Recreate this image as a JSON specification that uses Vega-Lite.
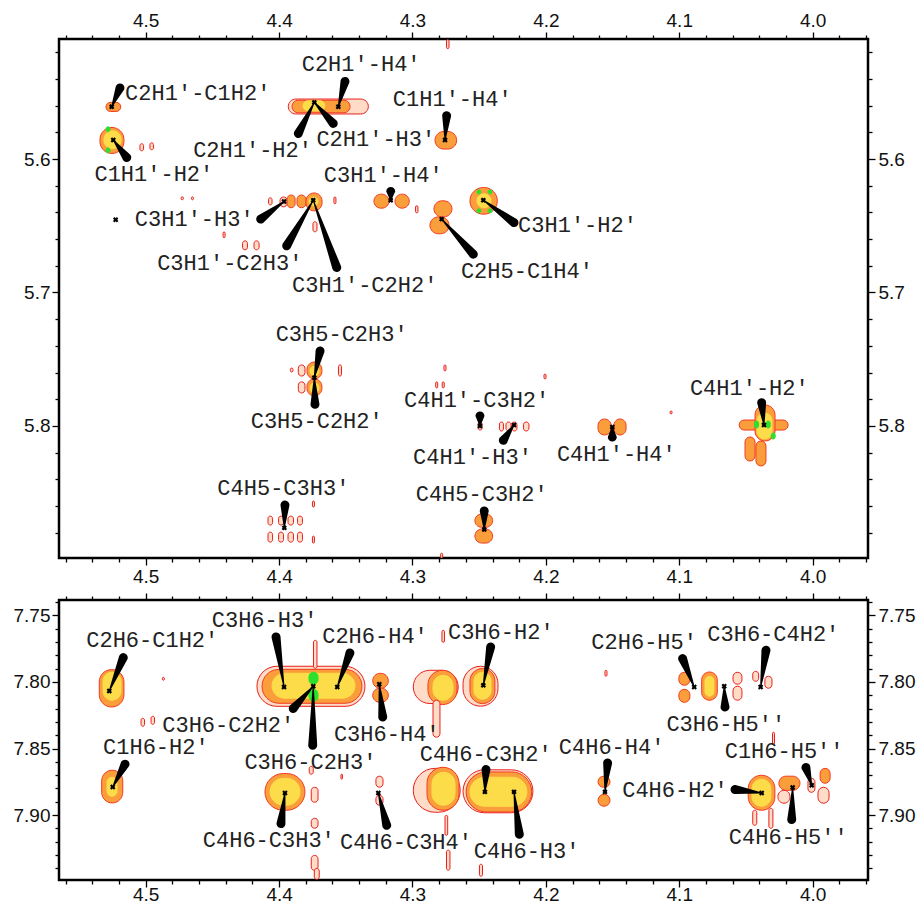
{
  "$schema": "https://vega.github.io/schema/vega-lite/v6.json",
  "background": "white",
  "padding": {"left": 11, "top": 9, "right": 5, "bottom": 0},
  "spacing": 42,
  "bounds": "flush",
  "config": {
    "view": {"stroke": "black", "strokeWidth": 2.5},
    "axis": {"grid": false, "domain": false, "tickColor": "black", "tickWidth": 1.3, "labelFont": "Liberation Sans", "labelFontSize": 19, "labelColor": "#111", "labelOverlap": false, "labelBound": false, "labelFlush": false, "labelPadding": 2}
  },
  "datasets": {
    "contours_top": [
      {"x":4.5298,"x2":4.5187,"y":5.5575,"y2":5.5643,"level":2},
      {"x":4.5343,"x2":4.5163,"y":5.5763,"y2":5.5958,"level":2},
      {"x":4.5313,"x2":4.5185,"y":5.5788,"y2":5.5923,"level":3},
      {"x":4.5297,"x2":4.5268,"y":5.5758,"y2":5.5795,"level":4},
      {"x":4.5297,"x2":4.5268,"y":5.5916,"y2":5.5953,"level":4},
      {"x":4.5043,"x2":4.5016,"y":5.5885,"y2":5.5938,"level":1},
      {"x":4.4968,"x2":4.4942,"y":5.5878,"y2":5.593,"level":1},
      {"x":4.3931,"x2":4.3331,"y":5.555,"y2":5.5662,"level":1},
      {"x":4.3903,"x2":4.3468,"y":5.5559,"y2":5.5653,"level":2},
      {"x":4.3821,"x2":4.3656,"y":5.5563,"y2":5.5638,"level":3},
      {"x":4.2831,"x2":4.2669,"y":5.5793,"y2":5.5925,"level":2},
      {"x":4.3289,"x2":4.3177,"y":5.6263,"y2":5.6368,"level":2},
      {"x":4.3131,"x2":4.3024,"y":5.6263,"y2":5.6368,"level":2},
      {"x":4.4079,"x2":4.4053,"y":5.629,"y2":5.6343,"level":1},
      {"x":4.3993,"x2":4.394,"y":5.6284,"y2":5.6358,"level":1},
      {"x":4.394,"x2":4.388,"y":5.6269,"y2":5.6365,"level":2},
      {"x":4.3866,"x2":4.3798,"y":5.6269,"y2":5.6365,"level":2},
      {"x":4.3798,"x2":4.3678,"y":5.6254,"y2":5.6388,"level":2},
      {"x":4.3776,"x2":4.3708,"y":5.6284,"y2":5.635,"level":3},
      {"x":4.3746,"x2":4.3716,"y":5.647,"y2":5.6545,"level":1},
      {"x":4.3589,"x2":4.3574,"y":5.6284,"y2":5.6335,"level":1},
      {"x":4.4274,"x2":4.4237,"y":5.6613,"y2":5.668,"level":1},
      {"x":4.4188,"x2":4.415,"y":5.6613,"y2":5.668,"level":1},
      {"x":4.442,"x2":4.4405,"y":5.6546,"y2":5.659,"level":1},
      {"x":4.4735,"x2":4.4717,"y":5.6283,"y2":5.6305,"level":1},
      {"x":4.4657,"x2":4.4642,"y":5.6283,"y2":5.6305,"level":1},
      {"x":4.2977,"x2":4.2959,"y":5.635,"y2":5.6403,"level":1},
      {"x":4.2745,"x2":4.2726,"y":5.5105,"y2":5.5172,"level":1},
      {"x":4.2839,"x2":4.2704,"y":5.6313,"y2":5.6433,"level":2},
      {"x":4.2869,"x2":4.2726,"y":5.6433,"y2":5.656,"level":2},
      {"x":4.2569,"x2":4.2364,"y":5.6213,"y2":5.6413,"level":2},
      {"x":4.2517,"x2":4.2411,"y":5.626,"y2":5.6365,"level":3},
      {"x":4.2517,"x2":4.2487,"y":5.6231,"y2":5.6261,"level":4},
      {"x":4.2433,"x2":4.2404,"y":5.6231,"y2":5.6261,"level":4},
      {"x":4.2517,"x2":4.2487,"y":5.6373,"y2":5.6403,"level":4},
      {"x":4.2433,"x2":4.2404,"y":5.6373,"y2":5.6403,"level":4},
      {"x":4.3856,"x2":4.3806,"y":5.7543,"y2":5.7626,"level":1},
      {"x":4.3791,"x2":4.3679,"y":5.7521,"y2":5.7648,"level":2},
      {"x":4.3768,"x2":4.3701,"y":5.7551,"y2":5.7626,"level":3},
      {"x":4.3856,"x2":4.3806,"y":5.767,"y2":5.7753,"level":1},
      {"x":4.3791,"x2":4.3679,"y":5.7648,"y2":5.7775,"level":2},
      {"x":4.3768,"x2":4.3701,"y":5.7678,"y2":5.7753,"level":3},
      {"x":4.3915,"x2":4.3896,"y":5.7566,"y2":5.7596,"level":1},
      {"x":4.3555,"x2":4.3532,"y":5.7543,"y2":5.7626,"level":1},
      {"x":4.4083,"x2":4.4049,"y":5.8676,"y2":5.8743,"level":1},
      {"x":4.4004,"x2":4.3967,"y":5.8676,"y2":5.8743,"level":1},
      {"x":4.3933,"x2":4.3892,"y":5.8676,"y2":5.8743,"level":1},
      {"x":4.3862,"x2":4.3825,"y":5.8676,"y2":5.8743,"level":1},
      {"x":4.4083,"x2":4.4049,"y":5.8796,"y2":5.8871,"level":1},
      {"x":4.4004,"x2":4.3967,"y":5.8796,"y2":5.8871,"level":1},
      {"x":4.3933,"x2":4.3892,"y":5.8796,"y2":5.8871,"level":1},
      {"x":4.3862,"x2":4.3825,"y":5.8796,"y2":5.8871,"level":1},
      {"x":4.375,"x2":4.3735,"y":5.8563,"y2":5.8608,"level":1},
      {"x":4.375,"x2":4.3735,"y":5.8826,"y2":5.8878,"level":1},
      {"x":4.2789,"x2":4.2774,"y":5.8954,"y2":5.899,"level":1},
      {"x":4.2764,"x2":4.2749,"y":5.7543,"y2":5.7588,"level":1},
      {"x":4.2826,"x2":4.2811,"y":5.767,"y2":5.7715,"level":1},
      {"x":4.2777,"x2":4.2762,"y":5.767,"y2":5.7715,"level":1},
      {"x":4.2348,"x2":4.2318,"y":5.7971,"y2":5.8038,"level":1},
      {"x":4.2299,"x2":4.2261,"y":5.7971,"y2":5.8038,"level":1},
      {"x":4.2254,"x2":4.2217,"y":5.7971,"y2":5.8038,"level":1},
      {"x":4.2168,"x2":4.2127,"y":5.7971,"y2":5.8038,"level":1},
      {"x":4.2508,"x2":4.2478,"y":5.7971,"y2":5.8031,"level":1},
      {"x":4.2014,"x2":4.1999,"y":5.7611,"y2":5.7648,"level":1},
      {"x":4.1069,"x2":4.1054,"y":5.7888,"y2":5.791,"level":1},
      {"x":4.1609,"x2":4.1511,"y":5.7948,"y2":5.8068,"level":2},
      {"x":4.1489,"x2":4.1399,"y":5.7948,"y2":5.8068,"level":2},
      {"x":4.0551,"x2":4.0184,"y":5.7956,"y2":5.8031,"level":2},
      {"x":4.0432,"x2":4.0282,"y":5.7843,"y2":5.8113,"level":2},
      {"x":4.0507,"x2":4.0432,"y":5.8083,"y2":5.8263,"level":2},
      {"x":4.0425,"x2":4.035,"y":5.8113,"y2":5.83,"level":2},
      {"x":4.0417,"x2":4.0305,"y":5.7903,"y2":5.8098,"level":3},
      {"x":4.0435,"x2":4.0405,"y":5.7963,"y2":5.8016,"level":4},
      {"x":4.0348,"x2":4.0318,"y":5.7963,"y2":5.8016,"level":4},
      {"x":4.031,"x2":4.0281,"y":5.8053,"y2":5.8098,"level":4},
      {"x":4.2532,"x2":4.2399,"y":5.8661,"y2":5.8759,"level":2},
      {"x":4.2532,"x2":4.2399,"y":5.8773,"y2":5.8878,"level":2}
    ],
    "contours_bottom": [
      {"x":4.5348,"x2":4.5163,"y":7.7907,"y2":7.8188,"level":2},
      {"x":4.532,"x2":4.5185,"y":7.7927,"y2":7.8137,"level":3},
      {"x":4.533,"x2":4.5172,"y":7.8663,"y2":7.8909,"level":2},
      {"x":4.529,"x2":4.5215,"y":7.8716,"y2":7.8859,"level":3},
      {"x":4.4166,"x2":4.3356,"y":7.7882,"y2":7.8183,"level":1},
      {"x":4.4128,"x2":4.3379,"y":7.7905,"y2":7.816,"level":2},
      {"x":4.4053,"x2":4.3431,"y":7.7935,"y2":7.8122,"level":3},
      {"x":4.3776,"x2":4.3708,"y":7.7927,"y2":7.8017,"level":4},
      {"x":4.3776,"x2":4.3708,"y":7.8055,"y2":7.8145,"level":4},
      {"x":4.3742,"x2":4.3716,"y":7.7687,"y2":7.7897,"level":1},
      {"x":4.3759,"x2":4.3708,"y":7.8791,"y2":7.8904,"level":1},
      {"x":4.3759,"x2":4.3708,"y":7.9024,"y2":7.9099,"level":1},
      {"x":4.3759,"x2":4.3708,"y":7.9303,"y2":7.9416,"level":1},
      {"x":4.3736,"x2":4.3699,"y":7.9401,"y2":7.9483,"level":1},
      {"x":4.3774,"x2":4.3744,"y":7.8634,"y2":7.8693,"level":1},
      {"x":4.3298,"x2":4.3181,"y":7.7935,"y2":7.8047,"level":2},
      {"x":4.3298,"x2":4.3181,"y":7.8047,"y2":7.8153,"level":2},
      {"x":4.4106,"x2":4.3806,"y":7.8688,"y2":7.8964,"level":2},
      {"x":4.4068,"x2":4.3843,"y":7.8724,"y2":7.8926,"level":3},
      {"x":4.3274,"x2":4.3221,"y":7.8708,"y2":7.8791,"level":1},
      {"x":4.3274,"x2":4.3221,"y":7.8851,"y2":7.8926,"level":1},
      {"x":4.2994,"x2":4.2657,"y":7.7912,"y2":7.8162,"level":1},
      {"x":4.2884,"x2":4.2666,"y":7.7912,"y2":7.817,"level":2},
      {"x":4.2846,"x2":4.2696,"y":7.795,"y2":7.8137,"level":3},
      {"x":4.2846,"x2":4.2794,"y":7.8137,"y2":7.8415,"level":1},
      {"x":4.2994,"x2":4.2642,"y":7.8649,"y2":7.8979,"level":1},
      {"x":4.2891,"x2":4.2651,"y":7.8641,"y2":7.8964,"level":2},
      {"x":4.2854,"x2":4.2681,"y":7.8679,"y2":7.8926,"level":3},
      {"x":4.2621,"x2":4.2359,"y":7.7882,"y2":7.8182,"level":1},
      {"x":4.2569,"x2":4.2382,"y":7.7899,"y2":7.8162,"level":2},
      {"x":4.2539,"x2":4.2411,"y":7.7927,"y2":7.813,"level":3},
      {"x":4.2621,"x2":4.2097,"y":7.866,"y2":7.8983,"level":1},
      {"x":4.2598,"x2":4.2106,"y":7.8676,"y2":7.8977,"level":2},
      {"x":4.2569,"x2":4.2142,"y":7.8716,"y2":7.8934,"level":3},
      {"x":4.1609,"x2":4.1519,"y":7.8708,"y2":7.8791,"level":2},
      {"x":4.1609,"x2":4.1519,"y":7.8844,"y2":7.8934,"level":2},
      {"x":4.1003,"x2":4.092,"y":7.7927,"y2":7.8025,"level":2},
      {"x":4.1003,"x2":4.092,"y":7.8055,"y2":7.8153,"level":2},
      {"x":4.0832,"x2":4.0715,"y":7.7925,"y2":7.8137,"level":2},
      {"x":4.0807,"x2":4.074,"y":7.7957,"y2":7.8107,"level":3},
      {"x":4.0597,"x2":4.053,"y":7.7927,"y2":7.8017,"level":1},
      {"x":4.0597,"x2":4.053,"y":7.8032,"y2":7.8137,"level":1},
      {"x":4.0449,"x2":4.0405,"y":7.792,"y2":7.7995,"level":1},
      {"x":4.0358,"x2":4.0305,"y":7.7957,"y2":7.8047,"level":1},
      {"x":4.0483,"x2":4.0283,"y":7.8701,"y2":7.8964,"level":2},
      {"x":4.0455,"x2":4.0313,"y":7.8731,"y2":7.8934,"level":3},
      {"x":4.0449,"x2":4.0419,"y":7.8964,"y2":7.9077,"level":1},
      {"x":4.0328,"x2":4.0298,"y":7.8949,"y2":7.9099,"level":1},
      {"x":4.0253,"x2":4.0095,"y":7.8708,"y2":7.8814,"level":2},
      {"x":4.026,"x2":4.017,"y":7.8814,"y2":7.8911,"level":1},
      {"x":3.9944,"x2":3.9869,"y":7.8649,"y2":7.8761,"level":2},
      {"x":3.996,"x2":3.9877,"y":7.8791,"y2":7.8911,"level":1},
      {"x":4.0035,"x2":3.9983,"y":7.8724,"y2":7.8829,"level":1},
      {"x":4.0301,"x2":4.0286,"y":7.8378,"y2":7.8468,"level":1},
      {"x":4.1557,"x2":4.1542,"y":7.7912,"y2":7.7957,"level":1},
      {"x":4.4875,"x2":4.486,"y":7.7965,"y2":7.7987,"level":1},
      {"x":4.5035,"x2":4.5009,"y":7.8273,"y2":7.8333,"level":1},
      {"x":4.496,"x2":4.4934,"y":7.8258,"y2":7.8318,"level":1},
      {"x":4.3536,"x2":4.3525,"y":7.8693,"y2":7.8731,"level":1},
      {"x":4.2498,"x2":4.2475,"y":7.937,"y2":7.946,"level":1},
      {"x":4.2745,"x2":4.2719,"y":7.9264,"y2":7.9414,"level":1},
      {"x":4.2756,"x2":4.2736,"y":7.9002,"y2":7.9152,"level":1},
      {"x":4.2779,"x2":4.276,"y":7.7612,"y2":7.7702,"level":1}
    ],
    "wedges_top": [
      {"pair":"C2H1′-C1H2′","end":0,"x":4.5255,"y":5.5608},{"pair":"C2H1′-C1H2′","end":1,"x":4.5193,"y":5.5467},
      {"pair":"C1H1′-H2′","end":0,"x":4.5243,"y":5.5857},{"pair":"C1H1′-H2′","end":1,"x":4.5142,"y":5.5988},
      {"pair":"C2H1′-H4′","end":0,"x":4.3556,"y":5.5608},{"pair":"C2H1′-H4′","end":1,"x":4.3506,"y":5.5418},
      {"pair":"C2H1′-H2′","end":0,"x":4.3736,"y":5.5575},{"pair":"C2H1′-H2′","end":1,"x":4.3856,"y":5.5808},
      {"pair":"C2H1′-H3′","end":0,"x":4.3736,"y":5.5575},{"pair":"C2H1′-H3′","end":1,"x":4.3594,"y":5.5733},
      {"pair":"C1H1′-H4′","end":0,"x":4.2756,"y":5.5857},{"pair":"C1H1′-H4′","end":1,"x":4.2744,"y":5.5675},
      {"pair":"C3H1′-H4′","end":0,"x":4.3163,"y":5.6308},{"pair":"C3H1′-H4′","end":1,"x":4.3163,"y":5.6243},
      {"pair":"C3H1′-H3′","end":0,"x":4.3963,"y":5.6318},{"pair":"C3H1′-H3′","end":1,"x":4.4138,"y":5.645},
      {"pair":"C3H1′-C2H3′","end":0,"x":4.3744,"y":5.6308},{"pair":"C3H1′-C2H3′","end":1,"x":4.3943,"y":5.665},
      {"pair":"C3H1′-C2H2′","end":0,"x":4.3744,"y":5.6308},{"pair":"C3H1′-C2H2′","end":1,"x":4.3568,"y":5.6813},
      {"pair":"C2H5-C1H4′","end":0,"x":4.2781,"y":5.645},{"pair":"C2H5-C1H4′","end":1,"x":4.2544,"y":5.6713},
      {"pair":"C3H1′-H2′","end":0,"x":4.2469,"y":5.6308},{"pair":"C3H1′-H2′","end":1,"x":4.2239,"y":5.6476},
      {"pair":"C3H5-C2H3′","end":0,"x":4.3736,"y":5.7638},{"pair":"C3H5-C2H3′","end":1,"x":4.3693,"y":5.7438},
      {"pair":"C3H5-C2H2′","end":0,"x":4.3736,"y":5.7638},{"pair":"C3H5-C2H2′","end":1,"x":4.3731,"y":5.7838},
      {"pair":"C4H5-C3H3′","end":0,"x":4.3961,"y":5.8764},{"pair":"C4H5-C3H3′","end":1,"x":4.3956,"y":5.8593},
      {"pair":"C4H1′-C3H2′","end":0,"x":4.2494,"y":5.8001},{"pair":"C4H1′-C3H2′","end":1,"x":4.2494,"y":5.7926},
      {"pair":"C4H1′-H3′","end":0,"x":4.2239,"y":5.7993},{"pair":"C4H1′-H3′","end":1,"x":4.2319,"y":5.8108},
      {"pair":"C4H1′-H4′","end":0,"x":4.1502,"y":5.8008},{"pair":"C4H1′-H4′","end":1,"x":4.1502,"y":5.8083},
      {"pair":"C4H1′-H2′","end":0,"x":4.0365,"y":5.7993},{"pair":"C4H1′-H2′","end":1,"x":4.0382,"y":5.7826},
      {"pair":"C4H5-C3H2′","end":0,"x":4.2462,"y":5.8776},{"pair":"C4H5-C3H2′","end":1,"x":4.2462,"y":5.8638}
    ],
    "wedges_bottom": [
      {"pair":"C2H6-C1H2′","end":0,"x":4.5273,"y":7.8068},{"pair":"C2H6-C1H2′","end":1,"x":4.5168,"y":7.7817},
      {"pair":"C1H6-H2′","end":0,"x":4.5247,"y":7.8789},{"pair":"C1H6-H2′","end":1,"x":4.5155,"y":7.8618},
      {"pair":"C3H6-H3′","end":0,"x":4.3963,"y":7.8038},{"pair":"C3H6-H3′","end":1,"x":4.4023,"y":7.7662},
      {"pair":"C2H6-H4′","end":0,"x":4.3564,"y":7.8038},{"pair":"C2H6-H4′","end":1,"x":4.3469,"y":7.7782},
      {"pair":"C3H6-C2H2′","end":0,"x":4.3744,"y":7.8032},{"pair":"C3H6-C2H2′","end":1,"x":4.3894,"y":7.82},
      {"pair":"C3H6-C2H3′","end":0,"x":4.3744,"y":7.8032},{"pair":"C3H6-C2H3′","end":1,"x":4.3748,"y":7.8476},
      {"pair":"C3H6-H4′","end":0,"x":4.3249,"y":7.8017},{"pair":"C3H6-H4′","end":1,"x":4.3223,"y":7.8263},
      {"pair":"C4H6-C3H3′","end":0,"x":4.3956,"y":7.8834},{"pair":"C4H6-C3H3′","end":1,"x":4.3986,"y":7.9064},
      {"pair":"C4H6-C3H4′","end":0,"x":4.3256,"y":7.8834},{"pair":"C4H6-C3H4′","end":1,"x":4.3193,"y":7.9077},
      {"pair":"C3H6-H2′","end":0,"x":4.2469,"y":7.8025},{"pair":"C3H6-H2′","end":1,"x":4.2414,"y":7.7737},
      {"pair":"C4H6-C3H2′","end":0,"x":4.2457,"y":7.8826},{"pair":"C4H6-C3H2′","end":1,"x":4.2449,"y":7.8658},
      {"pair":"C4H6-H3′","end":0,"x":4.2239,"y":7.8826},{"pair":"C4H6-H3′","end":1,"x":4.2199,"y":7.9144},
      {"pair":"C4H6-H4′","end":0,"x":4.1557,"y":7.8826},{"pair":"C4H6-H4′","end":1,"x":4.1537,"y":7.8609},
      {"pair":"C2H6-H5′","end":0,"x":4.0888,"y":7.8038},{"pair":"C2H6-H5′","end":1,"x":4.0975,"y":7.7824},
      {"pair":"C3H6-H5′′","end":0,"x":4.0663,"y":7.8032},{"pair":"C3H6-H5′′","end":1,"x":4.0657,"y":7.8188},
      {"pair":"C3H6-C4H2′","end":0,"x":4.039,"y":7.8038},{"pair":"C3H6-C4H2′","end":1,"x":4.035,"y":7.7762},
      {"pair":"C4H6-H2′","end":0,"x":4.0382,"y":7.8834},{"pair":"C4H6-H2′","end":1,"x":4.0582,"y":7.8808},
      {"pair":"C4H6-H5′′","end":0,"x":4.015,"y":7.8793},{"pair":"C4H6-H5′′","end":1,"x":4.0157,"y":7.9034},
      {"pair":"C1H6-H5′′","end":0,"x":4.0007,"y":7.8776},{"pair":"C1H6-H5′′","end":1,"x":4.005,"y":7.8643}
    ],
    "markers_top": [
      {"x":4.5255,"y":5.5608},{"x":4.5243,"y":5.5857},{"x":4.3556,"y":5.5608},{"x":4.3736,"y":5.5575},
      {"x":4.2756,"y":5.5857},{"x":4.3163,"y":5.6308},{"x":4.3963,"y":5.6318},{"x":4.5225,"y":5.6455},
      {"x":4.3744,"y":5.6308},{"x":4.2781,"y":5.645},{"x":4.2469,"y":5.6308},{"x":4.3736,"y":5.7638},
      {"x":4.3961,"y":5.8764},{"x":4.2494,"y":5.8001},{"x":4.2239,"y":5.7993},{"x":4.1502,"y":5.8008},
      {"x":4.0365,"y":5.7993},{"x":4.2462,"y":5.8776}
    ],
    "markers_bottom": [
      {"x":4.5273,"y":7.8068},{"x":4.5247,"y":7.8789},{"x":4.3963,"y":7.8038},{"x":4.3564,"y":7.8038},
      {"x":4.3744,"y":7.8032},{"x":4.3249,"y":7.8017},{"x":4.3956,"y":7.8834},{"x":4.3256,"y":7.8834},
      {"x":4.2469,"y":7.8025},{"x":4.2457,"y":7.8826},{"x":4.2239,"y":7.8826},{"x":4.1557,"y":7.8826},
      {"x":4.0888,"y":7.8038},{"x":4.0663,"y":7.8032},{"x":4.039,"y":7.8038},{"x":4.0382,"y":7.8834},
      {"x":4.015,"y":7.8793},{"x":4.0007,"y":7.8776}
    ],
    "labels_top": [
      {"label":"C2H1′-C1H2′","x":4.461,"y":5.5508},
      {"label":"C1H1′-H2′","x":4.4939,"y":5.6113},
      {"label":"C2H1′-H4′","x":4.3385,"y":5.5287},
      {"label":"C2H1′-H2′","x":4.4199,"y":5.5932},
      {"label":"C2H1′-H3′","x":4.3275,"y":5.585},
      {"label":"C1H1′-H4′","x":4.2702,"y":5.555},
      {"label":"C3H1′-H4′","x":4.3219,"y":5.6118},
      {"label":"C3H1′-H3′","x":4.4636,"y":5.645},
      {"label":"C3H1′-C2H3′","x":4.437,"y":5.6776},
      {"label":"C3H1′-C2H2′","x":4.3358,"y":5.6943},
      {"label":"C2H5-C1H4′","x":4.2142,"y":5.6838},
      {"label":"C3H1′-H2′","x":4.1763,"y":5.6493},
      {"label":"C3H5-C2H3′","x":4.3531,"y":5.7308},
      {"label":"C3H5-C2H2′","x":4.3718,"y":5.7963},
      {"label":"C4H5-C3H3′","x":4.3968,"y":5.8468},
      {"label":"C4H1′-C3H2′","x":4.2519,"y":5.7806},
      {"label":"C4H1′-H3′","x":4.255,"y":5.8233},
      {"label":"C4H1′-H4′","x":4.1472,"y":5.8209},
      {"label":"C4H1′-H2′","x":4.0475,"y":5.7713},
      {"label":"C4H5-C3H2′","x":4.2481,"y":5.8513}
    ],
    "labels_bottom": [
      {"label":"C2H6-C1H2′","x":4.4951,"y":7.7687},
      {"label":"C1H6-H2′","x":4.4924,"y":7.8488},
      {"label":"C3H6-H3′","x":4.4109,"y":7.7536},
      {"label":"C2H6-H4′","x":4.3281,"y":7.7657},
      {"label":"C3H6-C2H2′","x":4.4381,"y":7.8325},
      {"label":"C3H6-C2H3′","x":4.3765,"y":7.8601},
      {"label":"C3H6-H4′","x":4.3193,"y":7.8388},
      {"label":"C4H6-C3H3′","x":4.4077,"y":7.9189},
      {"label":"C4H6-C3H4′","x":4.3049,"y":7.9202},
      {"label":"C3H6-H2′","x":4.2338,"y":7.7624},
      {"label":"C4H6-C3H2′","x":4.2451,"y":7.8538},
      {"label":"C4H6-H3′","x":4.2144,"y":7.927},
      {"label":"C4H6-H4′","x":4.1507,"y":7.8488},
      {"label":"C2H6-H5′","x":4.1263,"y":7.77},
      {"label":"C3H6-H5′′","x":4.0651,"y":7.8313},
      {"label":"C3H6-C4H2′","x":4.0295,"y":7.7636},
      {"label":"C4H6-H2′","x":4.1032,"y":7.8808},
      {"label":"C4H6-H5′′","x":4.0183,"y":7.9165},
      {"label":"C1H6-H5′′","x":4.0214,"y":7.8518}
    ]
  },
  "vconcat": [
    {
      "width": 809,
      "height": 519,
      "resolve": {"axis": {"x": "independent", "y": "independent"}},
      "layer": [
        {
          "data": {"name": "contours_top"},
          "mark": {"type": "rect", "cornerRadius": 100, "strokeWidth": 1, "clip": true},
          "encoding": {
            "x": {"field": "x", "type": "quantitative", "scale": {"domain": [3.9585, 4.565], "reverse": true, "nice": false, "zero": false},
              "axis": {"orient": "bottom", "title": null,
                "values": [4.56,4.54,4.52,4.5,4.48,4.46,4.44,4.42,4.4,4.38,4.36,4.34,4.32,4.3,4.28,4.26,4.24,4.22,4.2,4.18,4.16,4.14,4.12,4.1,4.08,4.06,4.04,4.02,4.0,3.98,3.96],
                "tickSize": {"condition": {"test": "abs(datum.value*10-round(datum.value*10))<0.01", "value": 7}, "value": 4},
                "labelExpr": "abs(datum.value*10-round(datum.value*10))<0.01 ? format(datum.value,'.1f') : ''"}},
            "x2": {"field": "x2"},
            "y": {"field": "y", "type": "quantitative", "scale": {"domain": [5.51, 5.899], "reverse": true, "nice": false, "zero": false},
              "axis": {"orient": "left", "title": null,
                "values": [5.52,5.54,5.56,5.58,5.6,5.62,5.64,5.66,5.68,5.7,5.72,5.74,5.76,5.78,5.8,5.82,5.84,5.86,5.88],
                "tickSize": {"condition": {"test": "abs(datum.value*10-round(datum.value*10))<0.01", "value": 7}, "value": 4},
                "labelExpr": "abs(datum.value*10-round(datum.value*10))<0.01 ? format(datum.value,'.1f') : ''"}},
            "y2": {"field": "y2"},
            "fill": {"field": "level", "type": "ordinal", "scale": {"domain": [1,2,3,4], "range": ["#ffdcc8","#fa9e3c","#fddc4a","#2ee02e"]}, "legend": null},
            "stroke": {"field": "level", "type": "ordinal", "scale": {"domain": [1,2,3,4], "range": ["#e8201c","#f23a22","#fddc4a","#2ee02e"]}, "legend": null}
          }
        },
        {
          "data": {"name": "wedges_top"},
          "mark": {"type": "trail", "color": "black"},
          "encoding": {
            "x": {"field": "x", "type": "quantitative", "axis": null},
            "y": {"field": "y", "type": "quantitative", "axis": null},
            "detail": {"field": "pair"},
            "order": {"field": "end", "type": "quantitative"},
            "size": {"field": "end", "type": "quantitative", "scale": {"domain": [0, 1], "range": [0, 9]}, "legend": null}
          }
        },
        {
          "data": {"name": "markers_top"},
          "mark": {"type": "point", "shape": "cross", "angle": 45, "filled": true, "size": 30, "color": "black", "opacity": 1},
          "encoding": {
            "x": {"field": "x", "type": "quantitative",
              "axis": {"orient": "top", "title": null,
                "values": [4.56,4.54,4.52,4.5,4.48,4.46,4.44,4.42,4.4,4.38,4.36,4.34,4.32,4.3,4.28,4.26,4.24,4.22,4.2,4.18,4.16,4.14,4.12,4.1,4.08,4.06,4.04,4.02,4.0,3.98,3.96],
                "tickSize": {"condition": {"test": "abs(datum.value*10-round(datum.value*10))<0.01", "value": 7}, "value": 4},
                "labelExpr": "abs(datum.value*10-round(datum.value*10))<0.01 ? format(datum.value,'.1f') : ''"}},
            "y": {"field": "y", "type": "quantitative",
              "axis": {"orient": "right", "title": null, "labelPadding": 3,
                "values": [5.52,5.54,5.56,5.58,5.6,5.62,5.64,5.66,5.68,5.7,5.72,5.74,5.76,5.78,5.8,5.82,5.84,5.86,5.88],
                "tickSize": {"condition": {"test": "abs(datum.value*10-round(datum.value*10))<0.01", "value": 7}, "value": 4},
                "labelExpr": "abs(datum.value*10-round(datum.value*10))<0.01 ? format(datum.value,'.1f') : ''"}}
          }
        },
        {
          "data": {"name": "labels_top"},
          "mark": {"type": "text", "font": "Liberation Mono", "fontSize": 22, "color": "#222", "align": "center", "baseline": "middle"},
          "encoding": {
            "x": {"field": "x", "type": "quantitative", "axis": null},
            "y": {"field": "y", "type": "quantitative", "axis": null},
            "text": {"field": "label"}
          }
        }
      ]
    },
    {
      "width": 809,
      "height": 280,
      "resolve": {"axis": {"x": "independent", "y": "independent"}},
      "layer": [
        {
          "data": {"name": "contours_bottom"},
          "mark": {"type": "rect", "cornerRadius": 100, "strokeWidth": 1, "clip": true},
          "encoding": {
            "x": {"field": "x", "type": "quantitative", "scale": {"domain": [3.9585, 4.565], "reverse": true, "nice": false, "zero": false},
              "axis": {"orient": "bottom", "title": null, "labelPadding": -2,
                "values": [4.56,4.54,4.52,4.5,4.48,4.46,4.44,4.42,4.4,4.38,4.36,4.34,4.32,4.3,4.28,4.26,4.24,4.22,4.2,4.18,4.16,4.14,4.12,4.1,4.08,4.06,4.04,4.02,4.0,3.98,3.96],
                "tickSize": {"condition": {"test": "abs(datum.value*10-round(datum.value*10))<0.01", "value": 7}, "value": 4},
                "labelExpr": "abs(datum.value*10-round(datum.value*10))<0.01 ? format(datum.value,'.1f') : ''"}},
            "x2": {"field": "x2"},
            "y": {"field": "y", "type": "quantitative", "scale": {"domain": [7.7384, 7.9488], "reverse": true, "nice": false, "zero": false},
              "axis": {"orient": "left", "title": null,
                "values": [7.74,7.75,7.76,7.77,7.78,7.79,7.8,7.81,7.82,7.83,7.84,7.85,7.86,7.87,7.88,7.89,7.9,7.91,7.92,7.93,7.94],
                "tickSize": {"condition": {"test": "abs(datum.value*20-round(datum.value*20))<0.01", "value": 7}, "value": 4},
                "labelExpr": "abs(datum.value*20-round(datum.value*20))<0.01 ? format(datum.value,'.2f') : ''"}},
            "y2": {"field": "y2"},
            "fill": {"field": "level", "type": "ordinal", "scale": {"domain": [1,2,3,4], "range": ["#ffdcc8","#fa9e3c","#fddc4a","#2ee02e"]}, "legend": null},
            "stroke": {"field": "level", "type": "ordinal", "scale": {"domain": [1,2,3,4], "range": ["#e8201c","#f23a22","#fddc4a","#2ee02e"]}, "legend": null}
          }
        },
        {
          "data": {"name": "wedges_bottom"},
          "mark": {"type": "trail", "color": "black"},
          "encoding": {
            "x": {"field": "x", "type": "quantitative", "axis": null},
            "y": {"field": "y", "type": "quantitative", "axis": null},
            "detail": {"field": "pair"},
            "order": {"field": "end", "type": "quantitative"},
            "size": {"field": "end", "type": "quantitative", "scale": {"domain": [0, 1], "range": [0, 9]}, "legend": null}
          }
        },
        {
          "data": {"name": "markers_bottom"},
          "mark": {"type": "point", "shape": "cross", "angle": 45, "filled": true, "size": 30, "color": "black", "opacity": 1},
          "encoding": {
            "x": {"field": "x", "type": "quantitative",
              "axis": {"orient": "top", "title": null, "labels": false,
                "values": [4.56,4.54,4.52,4.5,4.48,4.46,4.44,4.42,4.4,4.38,4.36,4.34,4.32,4.3,4.28,4.26,4.24,4.22,4.2,4.18,4.16,4.14,4.12,4.1,4.08,4.06,4.04,4.02,4.0,3.98,3.96],
                "tickSize": {"condition": {"test": "abs(datum.value*10-round(datum.value*10))<0.01", "value": 7}, "value": 4}}},
            "y": {"field": "y", "type": "quantitative",
              "axis": {"orient": "right", "title": null, "labelPadding": 3,
                "values": [7.74,7.75,7.76,7.77,7.78,7.79,7.8,7.81,7.82,7.83,7.84,7.85,7.86,7.87,7.88,7.89,7.9,7.91,7.92,7.93,7.94],
                "tickSize": {"condition": {"test": "abs(datum.value*20-round(datum.value*20))<0.01", "value": 7}, "value": 4},
                "labelExpr": "abs(datum.value*20-round(datum.value*20))<0.01 ? format(datum.value,'.2f') : ''"}}
          }
        },
        {
          "data": {"name": "labels_bottom"},
          "mark": {"type": "text", "font": "Liberation Mono", "fontSize": 22, "color": "#222", "align": "center", "baseline": "middle"},
          "encoding": {
            "x": {"field": "x", "type": "quantitative", "axis": null},
            "y": {"field": "y", "type": "quantitative", "axis": null},
            "text": {"field": "label"}
          }
        }
      ]
    }
  ]
}
